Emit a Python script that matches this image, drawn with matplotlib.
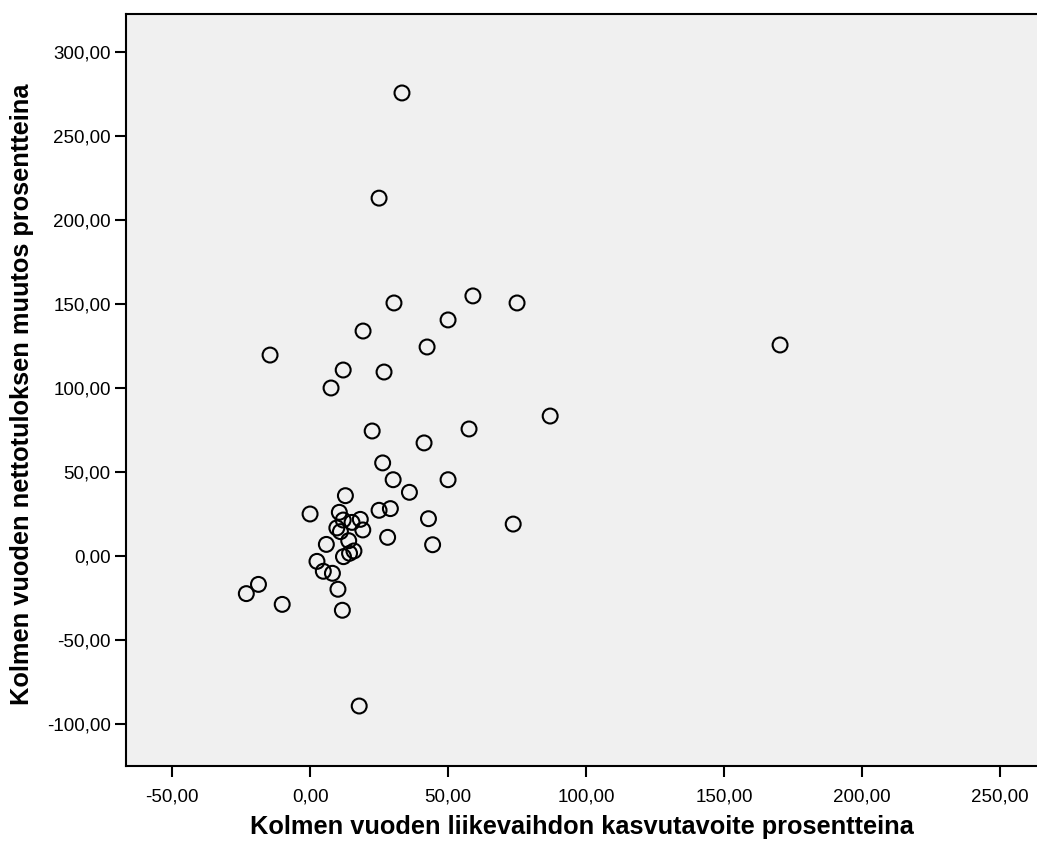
import matplotlib
matplotlib.use("Agg")
import matplotlib.pyplot as plt
from matplotlib.ticker import FuncFormatter

plt.rcParams['font.family'] = ['Liberation Sans', 'DejaVu Sans']

growth = [26.3, 30.1, 50.0, 36.0, 12.8, 0.0, 10.6, 12.0, 15.2, 18.2, 25.0, 29.1,
          42.9, 9.7, 11.0, 19.1, 28.1, 44.4, 14.0, 5.9, 15.9, 14.3, 12.1, 2.5,
          4.8, 8.1, -18.7, -23.1, -10.1, 10.1, 11.7, 17.8, 33.3, 25.0, 30.4,
          59.0, 75.0, 50.0, 19.2, 42.4, -14.5, 12.0, 26.8, 7.6, 170.3, 87.0,
          22.5, 57.6, 41.3, 73.6]
net_change = [55.4, 45.4, 45.4, 37.9, 35.9, 25.0, 26.0, 21.4, 20.0, 21.8, 27.2, 28.2,
              22.2, 16.7, 14.5, 15.5, 11.1, 6.7, 9.1, 6.9, 3.0, 1.6, -0.4, -3.2,
              -9.1, -10.3, -16.9, -22.4, -28.8, -19.8, -32.3, -89.3, 275.6, 213.0, 150.6,
              154.8, 150.6, 140.5, 133.9, 124.4, 119.6, 110.7, 109.5, 100.0, 125.6, 83.3,
              74.4, 75.6, 67.3, 19.0]

x_ticks = [-50, 0, 50, 100, 150, 200, 250]
y_ticks = [-100, -50, 0, 50, 100, 150, 200, 250, 300]

fig = plt.figure(figsize=(10.37, 8.44), dpi=100)
ax = fig.add_axes([126/1037, 1 - 766/844, 1 - 126/1037, (766 - 14)/844])
ax.set_facecolor('#f0f0f0')

ax.scatter(growth, net_change, s=115, facecolors='none', edgecolors='black',
           linewidths=1.5, zorder=3)

ax.set_xlim(-66.7, 263.4)
ax.set_ylim(-125.0, 322.6)
ax.set_xticks(x_ticks)
ax.set_yticks(y_ticks)
fmt = FuncFormatter(lambda v, p: f"{v:.2f}".replace('.', ','))
ax.xaxis.set_major_formatter(fmt)
ax.yaxis.set_major_formatter(fmt)
ax.tick_params(direction='out', length=8, width=1.5, labelsize=13.5, colors='black')
ax.tick_params(axis='x', pad=8)
ax.tick_params(axis='y', pad=3)

for s in ['left', 'bottom', 'top']:
    ax.spines[s].set_linewidth(1.5)
ax.spines['right'].set_visible(False)

ax.set_xlabel('Kolmen vuoden liikevaihdon kasvutavoite prosentteina',
              fontsize=18.3, fontweight='bold')
ax.set_ylabel('Kolmen vuoden nettotuloksen muutos prosentteina',
              fontsize=18.3, fontweight='bold')
ax.xaxis.label.set_va('center')
ax.yaxis.label.set_va('center')
ax.xaxis.set_label_coords(0.5, -0.081)
ax.yaxis.set_label_coords(-0.1142, 0.4947)

fig.savefig('out.png', dpi=100)
